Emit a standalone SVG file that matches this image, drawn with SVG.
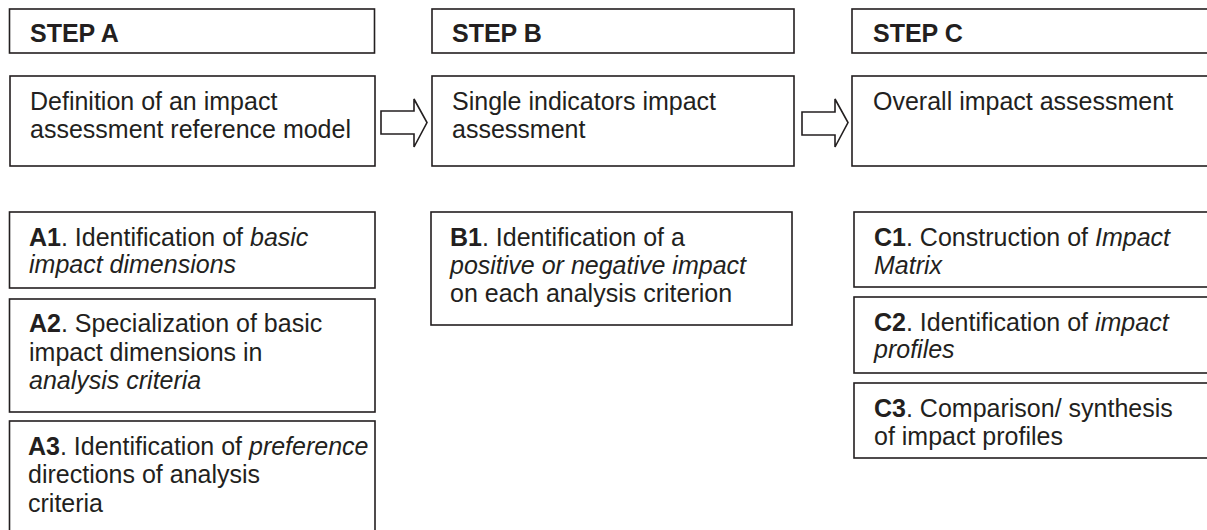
<svg xmlns="http://www.w3.org/2000/svg" width="1207" height="530" viewBox="0 0 1207 530">
<style>
  .box { fill: #fff; stroke: #231f20; stroke-width: 1.6; }
  .arr { fill: #fff; stroke: #231f20; stroke-width: 1.6; stroke-linejoin: miter; }
  text { font-family: "Liberation Sans", Arial, sans-serif; font-size: 25px; fill: #231f20; }
  .hd { font-weight: bold; }
  .b { font-weight: bold; }
  .i { font-style: italic; }
</style>
<rect width="1207" height="530" fill="#fff"/>
<g id="stepA">
  <rect class="box" x="9.5" y="9" width="365" height="44"/>
  <text class="hd" x="30" y="42">STEP A</text>
</g>
<g id="defA">
  <rect class="box" x="10" y="76" width="365" height="90"/>
  <text x="30" y="110">Definition of an impact</text>
  <text x="30" y="138">assessment reference model</text>
</g>
<g id="stepB">
  <rect class="box" x="432" y="9" width="362" height="44"/>
  <text class="hd" x="452" y="42">STEP B</text>
</g>
<g id="defB">
  <rect class="box" x="432" y="76" width="362" height="90"/>
  <text x="452" y="110">Single indicators impact</text>
  <text x="452" y="138">assessment</text>
</g>
<g id="stepC">
  <rect class="box" x="852" y="9" width="400" height="44"/>
  <text class="hd" x="873" y="42">STEP C</text>
</g>
<g id="defC">
  <rect class="box" x="852" y="76" width="400" height="90"/>
  <text x="873" y="110">Overall impact assessment</text>
</g>
<g id="A1">
  <rect class="box" x="9.5" y="212" width="365.5" height="76"/>
  <text x="29" y="246"><tspan class="b">A1</tspan>. Identification of <tspan class="i">basic</tspan></text>
  <text x="29" y="273" class="i">impact dimensions</text>
</g>
<g id="A2">
  <rect class="box" x="9.5" y="299" width="365.5" height="113"/>
  <text x="29" y="332"><tspan class="b">A2</tspan>. Specialization of basic</text>
  <text x="29" y="361">impact dimensions in</text>
  <text x="29" y="389" class="i">analysis criteria</text>
</g>
<g id="A3">
  <rect class="box" x="9.5" y="421" width="365.5" height="130"/>
  <text x="28" y="455"><tspan class="b">A3</tspan>. Identification of <tspan class="i">preference</tspan></text>
  <text x="28" y="483">directions of analysis</text>
  <text x="28" y="512">criteria</text>
</g>
<g id="B1">
  <rect class="box" x="431" y="212" width="361" height="113"/>
  <text x="450" y="246"><tspan class="b">B1</tspan>. Identification of a</text>
  <text x="450" y="274" class="i">positive or negative impact</text>
  <text x="450" y="302">on each analysis criterion</text>
</g>
<g id="C1">
  <rect class="box" x="854" y="212" width="400" height="75"/>
  <text x="874" y="246"><tspan class="b">C1</tspan>. Construction of <tspan class="i">Impact</tspan></text>
  <text x="874" y="274" class="i">Matrix</text>
</g>
<g id="C2">
  <rect class="box" x="854" y="297" width="400" height="76"/>
  <text x="874" y="331"><tspan class="b">C2</tspan>. Identification of <tspan class="i">impact</tspan></text>
  <text x="874" y="358" class="i">profiles</text>
</g>
<g id="C3">
  <rect class="box" x="854" y="383" width="400" height="75"/>
  <text x="874" y="417"><tspan class="b">C3</tspan>. Comparison/ synthesis</text>
  <text x="874" y="445">of impact profiles</text>
</g>
<g id="connectors">
  <path class="arr" d="M381,111 H414 V99 L427,122.5 L414,147 V134 H381 Z"/>
  <path class="arr" d="M802,112 H835 V99 L848,122.5 L835,147 V135 H802 Z"/>
</g>
</svg>
